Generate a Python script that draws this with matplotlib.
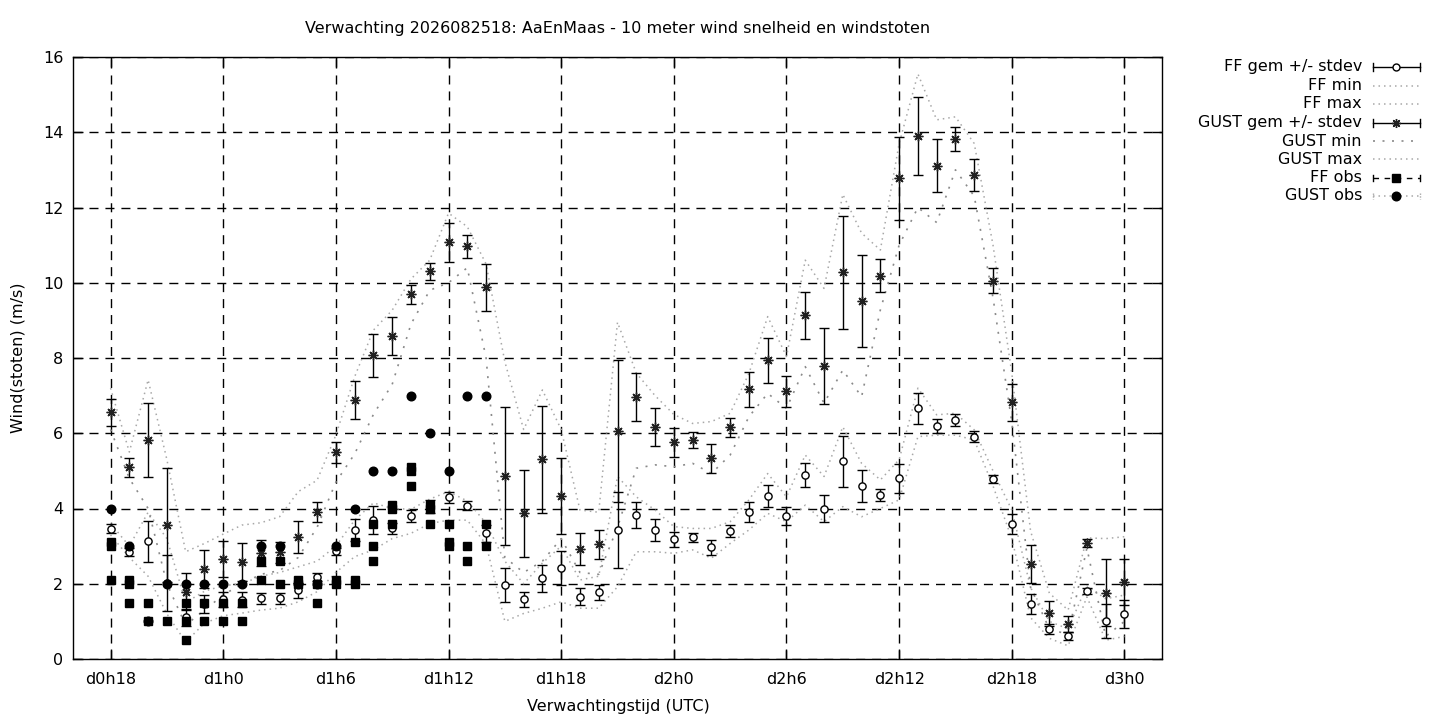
import matplotlib
matplotlib.use('Agg')
import matplotlib.pyplot as plt
from matplotlib.lines import Line2D

plt.rcParams['font.family'] = ['DejaVu Sans']

# ---------------- data ----------------
hours = list(range(18, 73))

ff_mean = [3.46, 2.84, 3.13, 2.02, 1.11, 1.46, 1.59, 1.57, 1.61, 1.61,
           1.83, 2.18, 2.86, 3.43, 3.69, 3.47, 3.80, 4.05, 4.30, 4.07,
           3.34, 1.96, 1.59, 2.14, 2.41, 1.66, 1.77, 3.43, 3.83, 3.43,
           3.18, 3.23, 2.97, 3.40, 3.90, 4.33, 3.80, 4.89, 4.00, 5.26,
           4.60, 4.36, 4.80, 6.66, 6.19, 6.35, 5.91, 4.78, 3.59, 1.46,
           0.80, 0.61, 1.81, 1.01, 1.20]
ff_sd = [0.12, 0.10, 0.55, 0.74, 0.22, 0.24, 0.20, 0.20, 0.15, 0.15,
         0.20, 0.10, 0.10, 0.29, 0.38, 0.15, 0.15, 0.17, 0.15, 0.12,
         0.22, 0.45, 0.20, 0.36, 0.45, 0.23, 0.19, 1.01, 0.35, 0.30,
         0.19, 0.13, 0.20, 0.16, 0.26, 0.30, 0.23, 0.32, 0.37, 0.68,
         0.43, 0.16, 0.38, 0.41, 0.18, 0.16, 0.15, 0.10, 0.26, 0.26,
         0.13, 0.11, 0.07, 0.44, 0.38]
ff_min = [3.30, 2.70, 2.20, 1.20, 0.45, 0.95, 1.15, 1.22, 1.30, 1.35,
          1.52, 1.79, 2.30, 2.72, 2.90, 3.20, 3.34, 3.60, 3.69, 3.69,
          3.05, 1.00, 1.21, 1.35, 1.52, 1.35, 1.35, 1.92, 2.85, 2.85,
          2.81, 2.90, 2.68, 3.07, 3.43, 3.87, 3.65, 4.09, 3.65, 4.05,
          3.78, 4.00, 4.23, 5.91, 5.95, 5.95, 5.82, 4.60, 3.20, 1.10,
          0.55, 0.35, 1.65, 0.50, 0.60]
ff_max = [3.60, 3.00, 3.90, 3.20, 1.50, 1.80, 1.95, 2.00, 2.20, 2.30,
          2.45, 2.60, 3.00, 3.69, 4.15, 4.00, 3.98, 4.25, 4.45, 4.20,
          3.61, 2.60, 2.00, 2.55, 3.00, 2.10, 2.20, 4.85, 4.31, 3.96,
          3.52, 3.47, 3.47, 3.65, 4.23, 4.93, 4.31, 5.42, 4.85, 6.17,
          5.20, 4.76, 5.30, 7.20, 6.49, 6.53, 6.09, 5.00, 3.96, 1.90,
          1.00, 0.80, 1.95, 1.60, 1.70]

gust_mean = [6.56, 5.09, 5.82, 3.56, 1.79, 2.39, 2.65, 2.57, 2.81, 2.84,
             3.25, 3.90, 5.49, 6.88, 8.07, 8.58, 9.69, 10.30, 11.07, 10.97,
             9.88, 4.86, 3.87, 5.31, 4.34, 2.92, 3.05, 6.06, 6.97, 6.16,
             5.76, 5.82, 5.33, 6.16, 7.17, 7.94, 7.12, 9.13, 7.79, 10.28,
             9.51, 10.19, 12.78, 13.91, 13.11, 13.83, 12.86, 10.05, 6.82, 2.52,
             1.21, 0.93, 3.09, 1.76, 2.04]
gust_sd = [0.36, 0.26, 0.98, 1.51, 0.50, 0.50, 0.48, 0.50, 0.35, 0.28,
           0.43, 0.26, 0.29, 0.50, 0.57, 0.51, 0.25, 0.23, 0.52, 0.30,
           0.62, 1.83, 1.16, 1.42, 1.01, 0.43, 0.38, 1.89, 0.64, 0.51,
           0.38, 0.22, 0.38, 0.25, 0.46, 0.60, 0.41, 0.62, 1.02, 1.50,
           1.23, 0.44, 1.10, 1.04, 0.70, 0.32, 0.43, 0.33, 0.49, 0.51,
           0.32, 0.20, 0.10, 0.89, 0.61]
gust_min = [6.10, 4.80, 4.00, 2.00, 0.90, 1.30, 1.70, 2.00, 2.25, 2.35,
            2.70, 3.50, 4.70, 5.45, 6.50, 7.30, 8.90, 9.80, 10.00, 10.40,
            8.00, 2.70, 2.30, 2.60, 3.20, 2.30, 2.25, 3.50, 5.07, 5.16,
            5.11, 5.20, 4.93, 5.42, 6.44, 7.06, 6.66, 7.77, 6.80, 7.68,
            6.97, 9.28, 11.00, 12.00, 11.60, 13.00, 12.30, 9.60, 6.30, 1.90,
            0.80, 0.65, 2.95, 0.60, 1.00]
gust_max = [7.20, 5.50, 7.42, 5.30, 2.85, 3.07, 3.32, 3.56, 3.62, 3.78,
            4.45, 4.75, 5.95, 7.50, 8.74, 9.27, 10.10, 10.60, 11.85, 11.49,
            10.50, 7.90, 6.10, 7.15, 6.10, 3.96, 3.90, 8.95, 7.60, 7.00,
            6.50, 6.26, 6.31, 6.53, 7.59, 9.10, 8.04, 10.60, 9.85, 12.35,
            11.32, 10.87, 13.70, 15.55, 14.33, 14.41, 13.70, 11.00, 7.60, 3.40,
            1.75, 1.30, 3.22, 3.20, 3.25]

ff_obs_hours = [18, 18, 18, 19, 19, 19, 20, 20, 21, 22, 22, 22, 23, 23,
                24, 24, 25, 25, 26, 26, 27, 27, 28, 28, 29, 29, 30, 30,
                31, 31, 31, 32, 32, 32, 33, 33, 33, 34, 34, 34, 35, 35, 35,
                36, 36, 36, 37, 37, 38, 38]
ff_obs_vals = [3.1, 3.0, 2.1, 2.1, 2.0, 1.5, 1.5, 1.0, 1.0, 1.5, 1.0, 0.5, 1.5, 1.0,
               1.5, 1.0, 1.5, 1.0, 2.6, 2.1, 2.6, 2.0, 2.1, 2.0, 2.0, 1.5, 2.1, 2.0,
               3.1, 2.1, 2.0, 3.6, 3.0, 2.6, 4.1, 4.0, 3.6, 5.1, 5.0, 4.6, 4.1, 4.0, 3.6,
               3.6, 3.1, 3.0, 3.0, 2.6, 3.6, 3.0]

gust_obs_hours = list(range(18, 39))
gust_obs_vals = [4.0, 3.0, 1.0, 2.0, 2.0, 2.0, 2.0, 2.0, 3.0, 3.0,
                 2.0, 2.0, 3.0, 4.0, 5.0, 5.0, 7.0, 6.0, 5.0, 7.0, 7.0]

tick_hours = [18, 24, 30, 36, 42, 48, 54, 60, 66, 72]
tick_labels = ['d0h18', 'd1h0', 'd1h6', 'd1h12', 'd1h18',
               'd2h0', 'd2h6', 'd2h12', 'd2h18', 'd3h0']
y_ticks = [0, 2, 4, 6, 8, 10, 12, 14, 16]

legend_labels = ['FF gem +/- stdev', 'FF min', 'FF max', 'GUST gem +/- stdev',
                 'GUST min', 'GUST max', 'FF obs', 'GUST obs']

title = 'Verwachting 2026082518: AaEnMaas - 10 meter wind snelheid en windstoten'

# ---------------- styles ----------------
FS = 11.5
ENV_COLOR = '#a8a8a8'
ENV_LS = (0, (1, 2.6))
GMIN_COLOR = '#8a8a8a'
GMIN_LS = (0, (1.2, 4.5))
STAR = (8, 2, 0)

W, H = 1440, 720
fig = plt.figure(figsize=(W / 100, H / 100), dpi=100)
ax = fig.add_axes([73 / W, 1 - 659 / H, (1162 - 73) / W, (659 - 57) / H])

# grid
ax.set_axisbelow(True)
ax.grid(True, color='black', linestyle=(0, (6.5, 5)), linewidth=1)

# FF mean +/- stdev
ax.errorbar(hours, ff_mean, yerr=ff_sd, fmt='o', ms=5.2, mfc='white', mec='black',
            mew=1, ecolor='black', elinewidth=1, capsize=3.6, capthick=1, zorder=3)
ax.plot(hours, ff_min, color=ENV_COLOR, ls=ENV_LS, lw=1.1, zorder=2)
ax.plot(hours, ff_max, color=ENV_COLOR, ls=ENV_LS, lw=1.1, zorder=2)

# GUST mean +/- stdev
ax.errorbar(hours, gust_mean, yerr=gust_sd, fmt='none', ecolor='black',
            elinewidth=1, capsize=3.6, capthick=1, zorder=3)
ax.plot(hours, gust_mean, ls='none', marker=STAR, ms=7, mec='#202020', mew=1, zorder=4)
ax.plot(hours, gust_min, color=GMIN_COLOR, ls=GMIN_LS, lw=1.2, zorder=2)
ax.plot(hours, gust_max, color=ENV_COLOR, ls=ENV_LS, lw=1.1, zorder=2)

# observations
ax.plot(ff_obs_hours, ff_obs_vals, ls='none', marker='s', ms=6, mfc='black',
        mec='black', zorder=5)
ax.plot(gust_obs_hours, gust_obs_vals, ls='none', marker='o', ms=6.2, mfc='black',
        mec='black', zorder=6)

ax.set_xlim(16, 74)
ax.set_ylim(0, 16)
ax.set_xticks(tick_hours)
ax.set_xticklabels(tick_labels)
ax.set_yticks(y_ticks)
ax.tick_params(direction='in', length=7, width=1, top=True, right=True,
               labelsize=FS, colors='black')
ax.tick_params(axis='x', pad=9)
ax.tick_params(axis='y', pad=7)
for s in ax.spines.values():
    s.set_linewidth(1)
    s.set_color('black')

fig.text(618 / W, 1 - 29 / H, title, ha='center', va='center', fontsize=FS)
fig.text(18 / W, 1 - 358 / H, 'Wind(stoten) (m/s)', ha='center', va='center',
         rotation=90, fontsize=FS)
fig.text(618 / W, 1 - 707 / H, 'Verwachtingstijd (UTC)', ha='center', va='center',
         fontsize=FS)

# ---------------- legend (gnuplot style, drawn by hand) ----------------
leg_y = [67, 86, 104, 123, 141, 159, 178, 196]
tx = 1362
x0, x1, xm = 1373, 1420, 1396


def fx(px):
    return px / W


def fy(py):
    return 1 - py / H


def seg(xa, xb, ya, yb, **kw):
    fig.add_artist(Line2D([fx(xa), fx(xb)], [fy(ya), fy(yb)],
                          transform=fig.transFigure, **kw))


for lab, yy in zip(legend_labels, leg_y):
    fig.text(fx(tx), fy(yy), lab, ha='right', va='center', fontsize=FS)

# FF gem
y = leg_y[0]
seg(x0, x1, y, y, color='black', lw=1)
seg(x0, x0, y - 4, y + 4, color='black', lw=1)
seg(x1, x1, y - 4, y + 4, color='black', lw=1)
fig.add_artist(Line2D([fx(xm)], [fy(y)], transform=fig.transFigure, marker='o',
                      ms=5, mfc='white', mec='black', mew=1, ls='none'))
# FF min / FF max
for y in (leg_y[1], leg_y[2]):
    seg(x0, x1, y, y, color=ENV_COLOR, ls=ENV_LS, lw=1.1)
# GUST gem
y = leg_y[3]
seg(x0, x1, y, y, color='black', lw=1)
seg(x0, x0, y - 4, y + 4, color='black', lw=1)
seg(x1, x1, y - 4, y + 4, color='black', lw=1)
fig.add_artist(Line2D([fx(xm)], [fy(y)], transform=fig.transFigure, marker=STAR,
                      ms=6.5, mec='#202020', mew=1, ls='none'))
# GUST min / max
seg(x0, x1, leg_y[4], leg_y[4], color=GMIN_COLOR, ls=GMIN_LS, lw=1.2)
seg(x0, x1, leg_y[5], leg_y[5], color=ENV_COLOR, ls=ENV_LS, lw=1.1)
# FF obs
y = leg_y[6]
seg(x0, x1, y, y, color='black', ls=(0, (4, 4)), lw=1)
seg(x0, x0, y - 3, y + 3, color='black', lw=1)
seg(x1, x1, y - 3, y + 3, color='black', lw=1)
fig.add_artist(Line2D([fx(xm)], [fy(y)], transform=fig.transFigure, marker='s',
                      ms=6, mfc='black', mec='black', ls='none'))
# GUST obs
y = leg_y[7]
seg(x0, x1, y, y, color=ENV_COLOR, ls=ENV_LS, lw=1.1)
seg(x0, x0, y - 3, y + 3, color=ENV_COLOR, ls=(0, (1, 1)), lw=1)
seg(x1, x1, y - 3, y + 3, color=ENV_COLOR, ls=(0, (1, 1)), lw=1)
fig.add_artist(Line2D([fx(xm)], [fy(y)], transform=fig.transFigure, marker='o',
                      ms=6.2, mfc='black', mec='black', ls='none'))

fig.savefig('out.png', dpi=100)
